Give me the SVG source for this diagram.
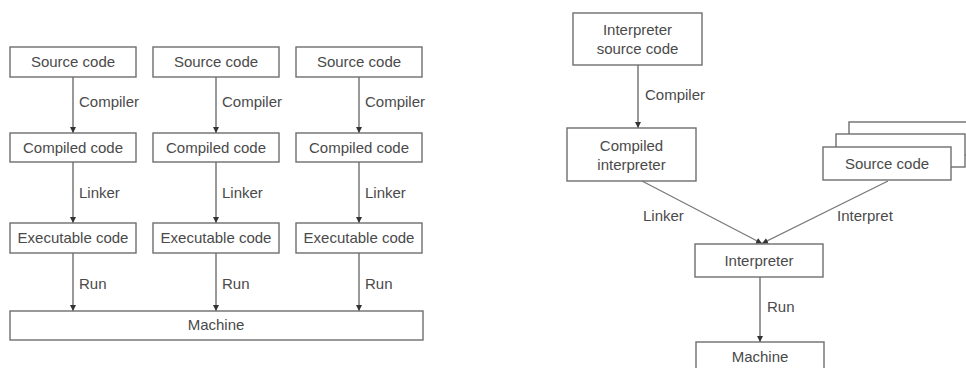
<svg xmlns="http://www.w3.org/2000/svg" width="966" height="368" viewBox="0 0 966 368">
<defs>
<marker id="ah" viewBox="0 0 10 10" refX="10" refY="5" markerWidth="6" markerHeight="7" markerUnits="userSpaceOnUse" orient="auto">
<path d="M0,0 L10,5 L0,10 z" fill="#333"/>
</marker>
<style>
.box{fill:#fff;stroke:#6e6e6e;stroke-width:1.4}
.t{font-family:"Liberation Sans",Arial,sans-serif;font-size:15px;fill:#4a4a4a}
.c{text-anchor:middle}
.ln{stroke:#555;stroke-width:1.2;fill:none;marker-end:url(#ah)}
.ln2{stroke:#777;stroke-width:1.2;fill:none;marker-end:url(#ah)}
</style>
</defs>
<rect width="966" height="368" fill="#fff"/>

<g id="connectors">
<line class="ln" x1="73" y1="77" x2="73" y2="133"/>
<line class="ln" x1="216" y1="77" x2="216" y2="133"/>
<line class="ln" x1="359" y1="77" x2="359" y2="133"/>
<line class="ln" x1="73" y1="162" x2="73" y2="223"/>
<line class="ln" x1="216" y1="162" x2="216" y2="223"/>
<line class="ln" x1="359" y1="162" x2="359" y2="223"/>
<line class="ln" x1="73" y1="253" x2="73" y2="311"/>
<line class="ln" x1="216" y1="253" x2="216" y2="311"/>
<line class="ln" x1="359" y1="253" x2="359" y2="311"/>
<text class="t" x="79" y="107">Compiler</text>
<text class="t" x="222" y="107">Compiler</text>
<text class="t" x="365" y="107">Compiler</text>
<text class="t" x="79" y="198">Linker</text>
<text class="t" x="222" y="198">Linker</text>
<text class="t" x="365" y="198">Linker</text>
<text class="t" x="79" y="289">Run</text>
<text class="t" x="222" y="289">Run</text>
<text class="t" x="365" y="289">Run</text>

<line class="ln" x1="638" y1="65" x2="638" y2="128"/>
<text class="t" x="645" y="100">Compiler</text>
<line class="ln2" x1="642" y1="181" x2="762" y2="243.5"/>
<line class="ln2" x1="888" y1="181" x2="762" y2="243.5"/>
<text class="t" x="643" y="221">Linker</text>
<text class="t" x="837" y="221">Interpret</text>
<line class="ln" x1="760" y1="277" x2="760" y2="342"/>
<text class="t" x="767" y="312">Run</text>
</g>

<g id="src1"><rect class="box" x="10" y="47" width="126" height="30"/><text class="t c" x="73" y="67">Source code</text></g>
<g id="src2"><rect class="box" x="153" y="47" width="126" height="30"/><text class="t c" x="216" y="67">Source code</text></g>
<g id="src3"><rect class="box" x="296" y="47" width="126" height="30"/><text class="t c" x="359" y="67">Source code</text></g>

<g id="cmp1"><rect class="box" x="10" y="133" width="126" height="29"/><text class="t c" x="73" y="153">Compiled code</text></g>
<g id="cmp2"><rect class="box" x="153" y="133" width="126" height="29"/><text class="t c" x="216" y="153">Compiled code</text></g>
<g id="cmp3"><rect class="box" x="296" y="133" width="126" height="29"/><text class="t c" x="359" y="153">Compiled code</text></g>

<g id="exe1"><rect class="box" x="10" y="223" width="126" height="30"/><text class="t c" x="73" y="243">Executable code</text></g>
<g id="exe2"><rect class="box" x="153" y="223" width="126" height="30"/><text class="t c" x="216" y="243">Executable code</text></g>
<g id="exe3"><rect class="box" x="296" y="223" width="126" height="30"/><text class="t c" x="359" y="243">Executable code</text></g>

<g id="machine1"><rect class="box" x="10" y="311" width="413" height="29"/><text class="t c" x="216" y="330">Machine</text></g>

<g id="isrc"><rect class="box" x="573" y="13" width="129" height="52"/><text class="t c" x="637.5" y="35">Interpreter</text><text class="t c" x="637.5" y="54">source code</text></g>
<g id="cinterp"><rect class="box" x="567" y="128" width="129" height="53"/><text class="t c" x="631.5" y="151">Compiled</text><text class="t c" x="631.5" y="170">interpreter</text></g>

<g id="srcstack">
<rect class="box" x="849" y="122" width="130" height="33"/>
<rect class="box" x="836" y="134" width="129" height="33"/>
<rect class="box" x="823" y="147" width="128" height="33"/>
<text class="t c" x="887" y="169">Source code</text>
</g>

<g id="interp"><rect class="box" x="695" y="244" width="128" height="33"/><text class="t c" x="759" y="266">Interpreter</text></g>
<g id="machine2"><rect class="box" x="696" y="342" width="128" height="34"/><text class="t c" x="760" y="362">Machine</text></g>
</svg>
